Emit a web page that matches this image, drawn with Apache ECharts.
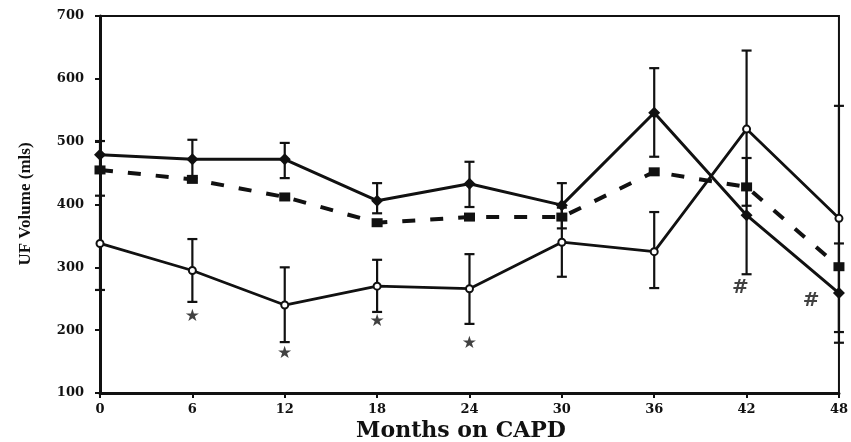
<!DOCTYPE html>
<html>
<head>
<meta charset="utf-8">
<script src="https://cdn.jsdelivr.net/npm/echarts@6/dist/echarts.min.js"></script>
<style>html,body{margin:0;padding:0;background:#fff}#c{width:851px;height:442px}</style>
</head>
<body>
<div id="c"></div>
<script>
// Data
var months = [0, 6, 12, 18, 24, 30, 36, 42, 48];
var xTicks = [0, 6, 12, 18, 24, 30, 36, 42, 48];
var yTicks = [100, 200, 300, 400, 500, 600, 700];

var seriesA = [479, 472, 472, 406, 433, 399, 546, 383, 259];   // solid, filled diamonds
var seriesA_low = [455, 442, 442, 386, 396, 362, 476, 289, 180];
var seriesA_high = [501, 503, 498, 434, 468, 434, 617, 474, 338];

var seriesB = [455, 440, 412, 371, 380, 380, 452, 428, 301];   // dashed, squares

var seriesC = [338, 295, 240, 270, 266, 340, 325, 520, 378];   // solid, open markers
var seriesC_low = [264, 245, 181, 229, 210, 285, 267, 398, 197];
var seriesC_high = [414, 345, 300, 312, 321, 395, 388, 645, 557];

var starMarks = [[6, 221], [12, 163], [18, 213], [24, 179]];
var hashMarks = [[41.6, 268], [46.2, 246]];

function pairs(xs, ys) { return xs.map(function (x, i) { return [x, ys[i]]; }); }
function errData(xs, lo, hi) { return xs.map(function (x, i) { return [x, lo[i], hi[i]]; }); }

function errRender(params, api) {
  var x = api.value(0);
  var lo = api.coord([x, api.value(1)]);
  var hi = api.coord([x, api.value(2)]);
  var w = 5;
  var st = { stroke: '#111', lineWidth: 2.2 };
  return {
    type: 'group',
    children: [
      { type: 'line', shape: { x1: lo[0], y1: lo[1], x2: hi[0], y2: hi[1] }, style: st },
      { type: 'line', shape: { x1: lo[0] - w, y1: lo[1], x2: lo[0] + w, y2: lo[1] }, style: st },
      { type: 'line', shape: { x1: hi[0] - w, y1: hi[1], x2: hi[0] + w, y2: hi[1] }, style: st }
    ]
  };
}

var chart = echarts.init(document.getElementById('c'), null, { renderer: 'canvas' });
var tickFont = { fontFamily: 'DejaVu Serif', fontWeight: 'bold', fontSize: 13, color: '#111' };

chart.setOption({
  backgroundColor: '#fff',
  animation: false,
  grid: { left: 100, right: 10, top: 16, bottom: 49, show: true, borderColor: '#111', borderWidth: 2, backgroundColor: 'transparent' },
  xAxis: {
    type: 'value', min: 0, max: 48, interval: 6,
    axisLine: { lineStyle: { color: '#111', width: 3 } },
    axisTick: { show: true, length: 5, lineStyle: { color: '#111', width: 2 } },
    axisLabel: Object.assign({ margin: 10, formatter: function (v) { return xTicks.indexOf(v) >= 0 ? String(v) : ''; } }, tickFont),
    splitLine: { show: false }
  },
  yAxis: {
    type: 'value', min: 100, max: 700, interval: 100,
    axisLine: { show: true, lineStyle: { color: '#111', width: 3 } },
    axisTick: { show: true, length: 5, lineStyle: { color: '#111', width: 2 } },
    axisLabel: Object.assign({ margin: 16, formatter: function (v) { return yTicks.indexOf(v) >= 0 ? String(v) : ''; } }, tickFont),
    splitLine: { show: false }
  },
  graphic: [
    { type: 'text', style: { text: 'Months on CAPD', x: 461, y: 431, align: 'center', verticalAlign: 'middle', fontFamily: 'DejaVu Serif', fontWeight: 'bold', fontSize: 22, fill: '#111' } },
    { type: 'text', x: 26, y: 204, rotation: Math.PI / 2, style: { text: 'UF Volume (mls)', x: 0, y: 0, align: 'center', verticalAlign: 'middle', fontFamily: 'Liberation Serif', fontWeight: 'bold', fontSize: 17, fill: '#111' } }
  ],
  series: [
    { type: 'custom', name: 'errA', renderItem: errRender, data: errData(months, seriesA_low, seriesA_high), encode: { x: 0, y: [1, 2] }, z: 1 },
    { type: 'custom', name: 'errC', renderItem: errRender, data: errData(months, seriesC_low, seriesC_high), encode: { x: 0, y: [1, 2] }, z: 1 },
    {
      type: 'line', name: 'A', data: pairs(months, seriesA), symbol: 'diamond', symbolSize: 12,
      lineStyle: { color: '#111', width: 3 }, itemStyle: { color: '#111' }, z: 3
    },
    {
      type: 'line', name: 'B', data: pairs(months, seriesB), symbol: 'rect', symbolSize: [11, 9],
      lineStyle: { color: '#111', width: 4, type: [13, 15] }, itemStyle: { color: '#111' }, z: 3
    },
    {
      type: 'line', name: 'C', data: pairs(months, seriesC), symbol: 'circle', symbolSize: 7,
      lineStyle: { color: '#111', width: 2.8 }, itemStyle: { color: '#fff', borderColor: '#111', borderWidth: 2 }, z: 4
    },
    {
      type: 'scatter', name: 'star', data: starMarks, symbolSize: 0,
      label: { show: true, position: 'inside', formatter: '\u2605', fontFamily: 'DejaVu Sans', fontSize: 17, color: '#111' }
    },
    {
      type: 'scatter', name: 'hash', data: hashMarks, symbolSize: 0,
      label: { show: true, position: 'inside', formatter: '#', fontFamily: 'DejaVu Sans', fontWeight: 'bold', fontSize: 20, color: '#111' }
    }
  ]
});
</script>
</body>
</html>
